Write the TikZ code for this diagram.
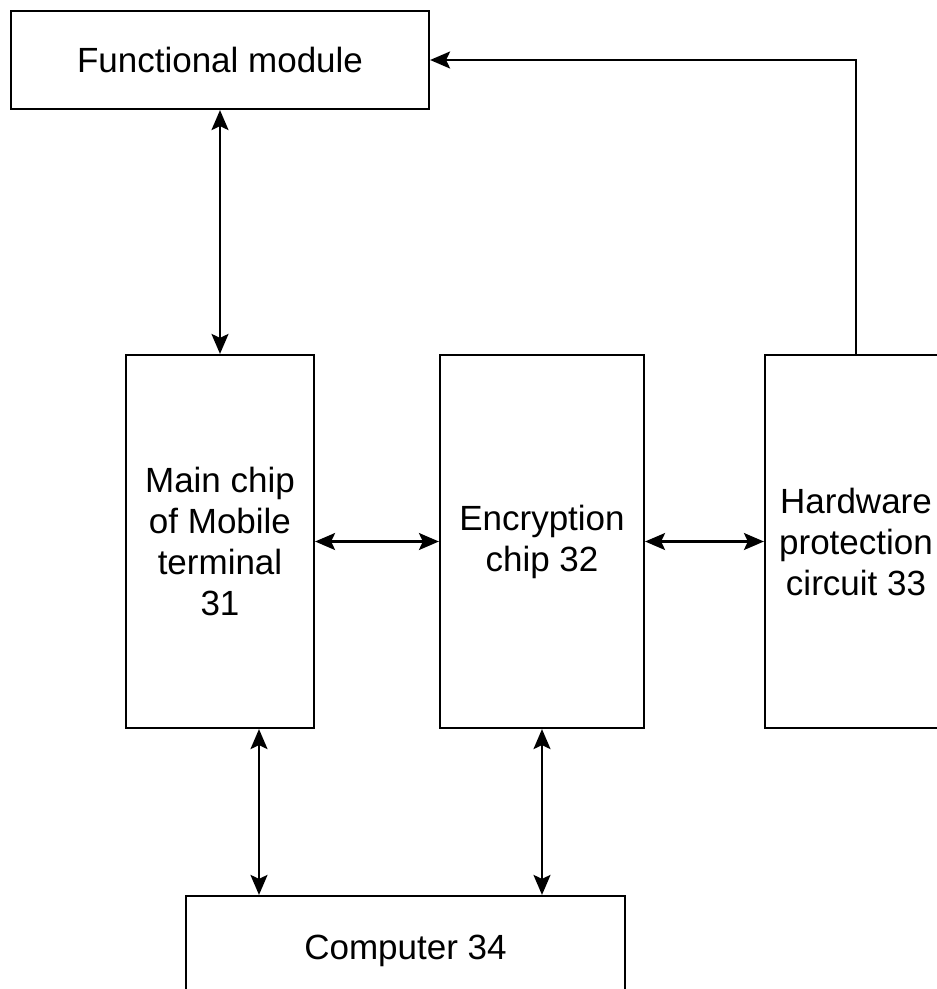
\documentclass[tikz,border=0pt]{standalone}
\usepackage{fontspec}
\setmainfont{Liberation Sans}
\usepackage{tikz}
\usetikzlibrary{arrows.meta,positioning,calc}

\begin{document}
\begin{tikzpicture}[x=1pt,y=-1pt,line width=2.2pt,>={Stealth[length=20pt,width=17pt,inset=4pt]},
block/.style={draw,rectangle,inner sep=0pt,align=center,font=\fontsize{35}{41}\selectfont}]
\useasboundingbox (0,0) rectangle (937,989);
\node[block,minimum width=418pt,minimum height=98pt] (fm) at (220,60){Functional module};
\node[block,minimum width=188pt,minimum height=373pt] (mc) at (220,541.5){Main chip\\of Mobile\\terminal\\31};
\node[block,minimum width=204pt,minimum height=373pt] (ec) at (542,541.5){Encryption\\chip 32};
\node[block,minimum width=182pt,minimum height=373pt] (hw) at (856,541.5){Hardware\\protection\\circuit 33};
\node[block,minimum width=439pt,minimum height=110pt] (pc) at (405.5,951){Computer 34};
\draw[<->] (fm.south) -- (mc.north);
\draw[<->] (mc.east) -- (ec.west);
\draw[<->] (ec.east) -- (hw.west);
\draw[<->] ([xshift=39pt]mc.south) -- ([xshift=39pt]mc.south |- pc.north);
\draw[<->] (ec.south) -- (ec.south |- pc.north);
\draw[->] (hw.north) |- (fm.east);
\end{tikzpicture}
\end{document}
